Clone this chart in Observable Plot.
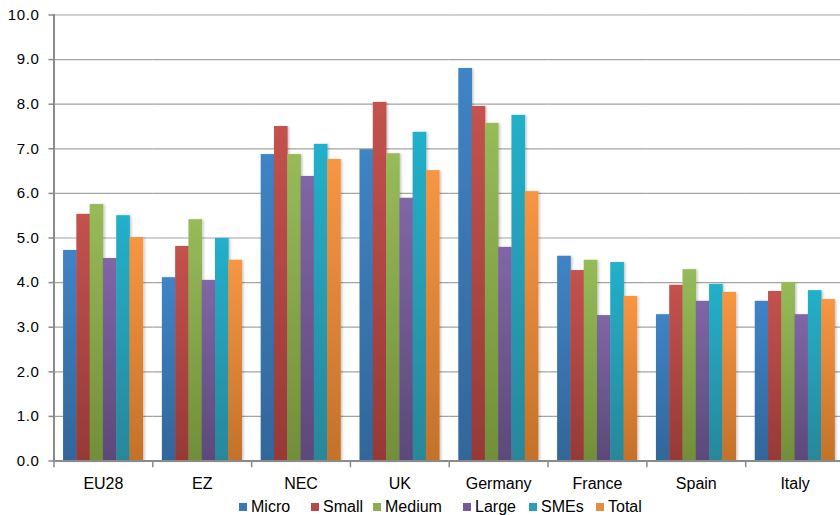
<!DOCTYPE html>
<html>
<head>
<meta charset="utf-8">
<script src="https://cdn.jsdelivr.net/npm/d3@7"></script>
<script src="https://cdn.jsdelivr.net/npm/@observablehq/plot@0.6"></script>
<style>
  html, body { margin: 0; padding: 0; background: #fff; overflow: hidden; }
  #wrap { position: relative; width: 840px; height: 515px; overflow: hidden; font-family: "Liberation Sans", Arial, sans-serif; }
  #wrap svg { max-width: none !important; display: block; }
  #legend { position: absolute; left: 0; top: 497px; width: 840px; height: 20px; font-size: 16px; line-height: 20px; color: #000; }
  #legend .item { position: absolute; top: 0; white-space: nowrap; }
  #legend .sw { display: inline-block; width: 8px; height: 8px; margin-right: 4px; vertical-align: 1px; }
</style>
</head>
<body>
<div id="wrap"></div>
<script>
// ---- data ----
const categories = ["EU28", "EZ", "NEC", "UK", "Germany", "France", "Spain", "Italy"];
const series = ["Micro", "Small", "Medium", "Large", "SMEs", "Total"];
const micro  = [4.72, 4.11, 6.87, 6.98, 8.80, 4.59, 3.28, 3.58];
const small  = [5.53, 4.81, 7.50, 8.04, 7.95, 4.27, 3.94, 3.80];
const medium = [5.75, 5.41, 6.87, 6.89, 7.57, 4.50, 4.29, 4.00];
const large  = [4.54, 4.05, 6.38, 5.89, 4.79, 3.26, 3.58, 3.28];
const smes   = [5.50, 4.99, 7.10, 7.37, 7.75, 4.45, 3.96, 3.82];
const total  = [5.01, 4.50, 6.76, 6.51, 6.04, 3.69, 3.78, 3.62];
const yTicks = [0, 1, 2, 3, 4, 5, 6, 7, 8, 9, 10];

// ---- styles ----
const gradTop    = ["#3f84c6", "#c4524e", "#97bb59", "#8066a6", "#23b0ca", "#f79643"];
const gradBottom = ["#31669a", "#963936", "#728e39", "#5c497a", "#29879a", "#c4712a"];
const swatch     = ["#3a79b8", "#b8474a", "#8aad4f", "#735a98", "#2aa0b8", "#ea8a3c"];
const legendLeft = [239, 311, 373, 463, 529, 596];

const valueSets = [micro, small, medium, large, smes, total];
const data = categories.flatMap((c, i) =>
  series.map((s, j) => ({category: c, series: s, value: valueSets[j][i]}))
);

const axisGray = "#8a8a8a";
const gridGray = "#a3a3a3";

const svg = Plot.plot({
  width: 844,
  height: 495,
  marginLeft: 53.5,
  marginRight: 0,
  marginTop: 14.5,
  marginBottom: 34.5,
  style: {fontFamily: "'Liberation Sans', Arial, sans-serif", background: "transparent", overflow: "visible"},
  fx: {domain: categories, padding: 0, round: false, label: null},
  x: {domain: series, paddingInner: 0, paddingOuter: 0.72, round: false, axis: null},
  y: {domain: [0, 10], label: null},
  color: {domain: series, range: series.map((s, i) => `url(#grad${i})`)},
  marks: [
    Plot.gridY(yTicks, {stroke: gridGray, strokeOpacity: 1, strokeWidth: 1.2}),
    Plot.barY(data, {fx: "category", x: "series", y: "value", fill: "series", insetRight: -0.4}),
    Plot.ruleY([0], {stroke: axisGray, strokeWidth: 2}),
    Plot.frame({anchor: "left", insetTop: 446, insetBottom: -5.5, stroke: axisGray, strokeWidth: 1.5}),
    Plot.frame({anchor: "left", facetAnchor: "left", stroke: axisGray, strokeWidth: 2}),
    Plot.axisY(yTicks, {
      tickSize: 5, tickPadding: 9.6, stroke: axisGray, strokeWidth: 1.5, fill: "#000",
      fontSize: 15, tickFormat: d => d.toFixed(1), label: null
    }),
    Plot.axisFx({anchor: "bottom", tickSize: 0, tickPadding: 17, fontSize: 16, fill: "#000", label: null})
  ]
});

// gradients + subtle shadow
const defs = d3.select(svg).insert("defs", ":first-child");
series.forEach((s, i) => {
  const g = defs.append("linearGradient").attr("id", `grad${i}`)
    .attr("x1", 0).attr("y1", 0).attr("x2", 0).attr("y2", 1);
  g.append("stop").attr("offset", "0%").attr("stop-color", gradTop[i]);
  g.append("stop").attr("offset", "100%").attr("stop-color", gradBottom[i]);
});
const f = defs.append("filter").attr("id", "shadow")
  .attr("x", "-20%").attr("y", "-5%").attr("width", "160%").attr("height", "110%");
f.append("feDropShadow").attr("dx", 1.5).attr("dy", 0.5).attr("stdDeviation", 1)
  .attr("flood-color", "#000").attr("flood-opacity", 0.22);
d3.select(svg).selectAll("g[aria-label='bar'] rect").attr("filter", "url(#shadow)");
d3.select(svg).selectAll("g[aria-label='y-axis tick label'] text").style("letter-spacing", "0.6px");

const wrap = document.getElementById("wrap");
wrap.appendChild(svg);

// legend
const legend = document.createElement("div");
legend.id = "legend";
series.forEach((s, i) => {
  const it = document.createElement("span");
  it.className = "item";
  it.style.left = legendLeft[i] + "px";
  const sw = document.createElement("span");
  sw.className = "sw";
  sw.style.background = swatch[i];
  it.appendChild(sw);
  it.appendChild(document.createTextNode(s));
  legend.appendChild(it);
});
wrap.appendChild(legend);
</script>
</body>
</html>
